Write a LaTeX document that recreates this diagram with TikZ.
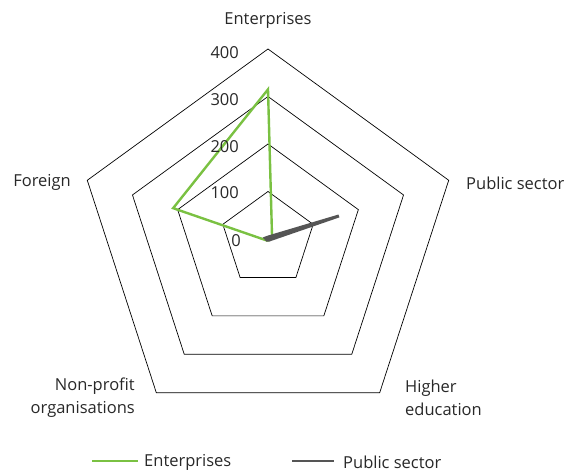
\documentclass[tikz,border=0pt]{standalone}
\usepackage{fontspec}
\setmainfont{Open Sans}
\usetikzlibrary{calc}
\definecolor{entgreen}{RGB}{122,193,66}
\definecolor{pubgray}{RGB}{85,85,85}
\definecolor{txt}{RGB}{40,40,40}
\begin{document}
\begin{tikzpicture}[x=1pt,y=1pt,
  gridline/.style={black, line width=0.7pt, line join=miter},
  lbl/.style={font=\fontsize{16.5}{23}\selectfont, text=txt, inner sep=0pt},
  serieslineg/.style={entgreen, line width=2.4pt, line join=miter},
  serieslinep/.style={pubgray, line width=3pt, line join=miter}]
\useasboundingbox (0,0) rectangle (567,471);
\coordinate (c) at (268,232);
\def\s{0.475}
\foreach \r in {100,200,300,400} {
  \draw[gridline] ($(c)+(90:\r*\s)$) -- ($(c)+(18:\r*\s)$) -- ($(c)+(-54:\r*\s)$)
    -- ($(c)+(-126:\r*\s)$) -- ($(c)+(162:\r*\s)$) -- cycle;
}
% series
\draw[serieslineg] ($(c)+(90:315*\s)$) -- ($(c)+(18:9*\s)$) -- ($(c)+(-54:3*\s)$)
    -- ($(c)+(-126:4*\s)$) -- ($(c)+(162:210*\s)$) -- cycle;
\draw[serieslinep] ($(c)+(90:4*\s)$) -- ($(c)+(18:157*\s)$) -- ($(c)+(-54:3*\s)$)
    -- ($(c)+(-126:3*\s)$) -- ($(c)+(162:6*\s)$) -- cycle;
% tick labels
\node[lbl, anchor=east] (t400) at (239,418) {400};
\node[lbl, anchor=east] (t300) at (239,371) {300};
\node[lbl, anchor=east] (t200) at (239,324) {200};
\node[lbl, anchor=east] (t100) at (239,278) {100};
\node[lbl, anchor=east] (t0) at (241,230) {0};
% axis labels
\node[lbl] (lE) at (268,451) {Enterprises};
\node[lbl, anchor=west] (lP) at (466,288) {Public sector};
\node[lbl, anchor=east] (lF) at (71,289) {Foreign};
\node[lbl, anchor=east, align=right] (lN) at (135,73) {Non-profit\\organisations};
\node[lbl, anchor=west, align=left] (lH) at (405,73) {Higher\\education};
% legend
\coordinate (g1) at (92,10);
\coordinate (g2) at (138,10);
\draw[entgreen, line width=2pt] (g1) -- (g2);
\node[lbl, anchor=west] (legE) at (144,9) {Enterprises};
\coordinate (p1) at (292,10);
\coordinate (p2) at (334,10);
\draw[pubgray, line width=2.4pt] (p1) -- (p2);
\node[lbl, anchor=west] (legP) at (343,9) {Public sector};
\end{tikzpicture}
\end{document}
